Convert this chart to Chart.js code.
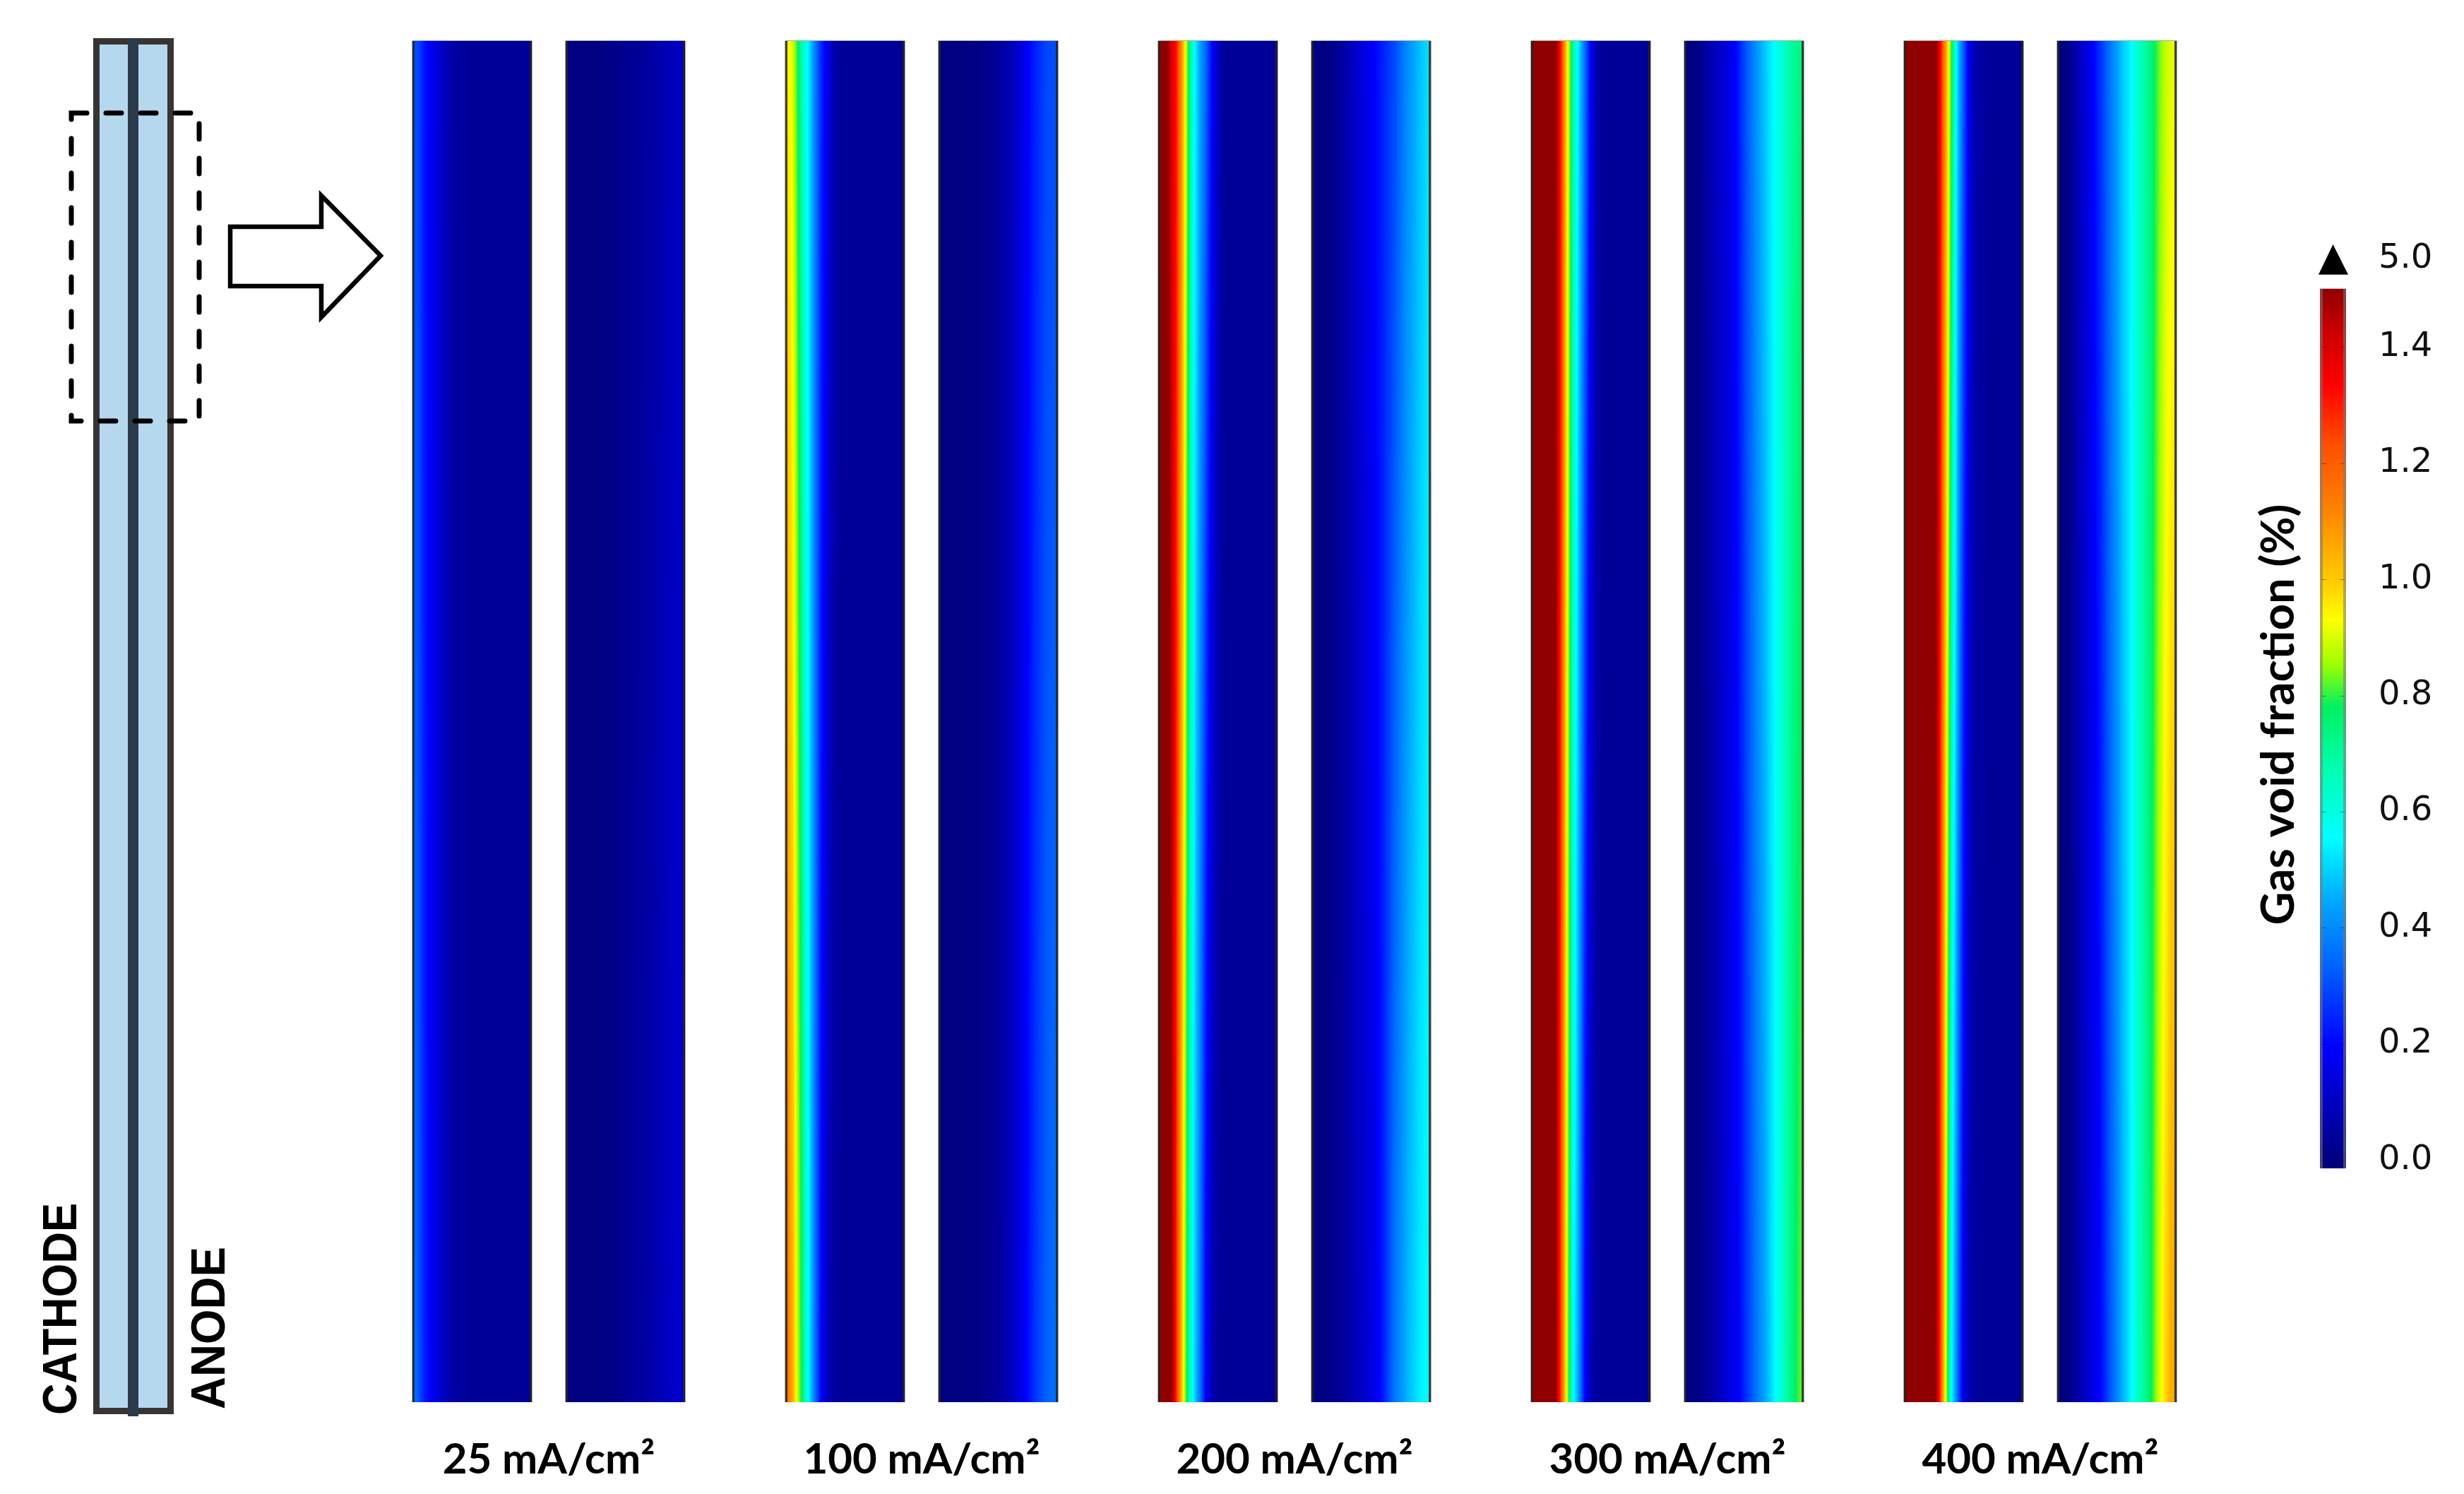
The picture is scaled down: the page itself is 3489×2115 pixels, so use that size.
<!DOCTYPE html>
<html>
<head>
<meta charset="utf-8">
<title>Gas void fraction</title>
<script src="https://cdn.jsdelivr.net/npm/chart.js@4.4.1/dist/chart.umd.min.js"></script>
<style>
    html, body { margin: 0; padding: 0; background: #fff; overflow: hidden; }
    #page { position: relative; width: 3489px; height: 2115px; }
    #sketch { position: absolute; left: 0; top: 0; }
    #panelsBox { position: absolute; left: 0; top: 0; width: 3489px; height: 2115px; }
    #cbarBox { position: absolute; left: 3100px; top: 0; width: 389px; height: 1717px; }
</style>
</head>
<body>
<div id="page">
    <!-- cell sketch with the zoom window -->
    <svg id="sketch" width="600" height="2115">
        <rect x="136.5" y="58.5" width="105" height="1939" fill="#B5D8EF" stroke="#383434" stroke-width="9"/>
        <rect x="181" y="54" width="15" height="1951" fill="#2B3B4C"/>
        <rect x="101" y="160" width="181" height="436" fill="none" stroke="#000" stroke-width="7"
              stroke-dasharray="22 27" stroke-linecap="round"/>
        <polygon points="326,321 455,321 455,277 539,362 455,449 455,405 326,405"
                 fill="#fff" stroke="#000" stroke-width="6.5"/>
        <text transform="translate(108,2003) rotate(-90)" font-family="'Liberation Sans', Arial, sans-serif"
              font-weight="bold" font-size="68" textLength="300" lengthAdjust="spacingAndGlyphs">CATHODE</text>
        <text transform="translate(318,1995) rotate(-90)" font-family="'Liberation Sans', Arial, sans-serif"
              font-weight="bold" font-size="68" textLength="230" lengthAdjust="spacingAndGlyphs">ANODE</text>
    </svg>
    <div id="panelsBox"><canvas id="panels"></canvas></div>
    <div id="cbarBox"><canvas id="cbar"></canvas></div>
</div>

<script>
// current densities (one pair of panels each)
var currents = ['25 mA/cm²', '100 mA/cm²', '200 mA/cm²', '300 mA/cm²', '400 mA/cm²'];
// normalized height of the zoom window (every panel spans all of it)
var windowHeight = [1, 1, 1, 1, 1];

// sample positions across each channel, 0 = left edge, 1 = right edge
var cellPos = [0, 0.03, 0.06, 0.1, 0.15, 0.2, 0.25, 0.3, 0.35, 0.4, 0.45, 0.5, 0.55, 0.6, 0.7, 0.8, 0.9, 0.95, 1.0];

// gas void fraction (%) on the cathode side, top and bottom of the window
var cathode25Top  = [0.31, 0.30, 0.28, 0.22, 0.18, 0.15, 0.11, 0.08, 0.055, 0.045, 0.04, 0.035, 0.035, 0.035, 0.035, 0.035, 0.035, 0.035, 0.035];
var cathode25Bot  = [0.36, 0.34, 0.30, 0.24, 0.19, 0.15, 0.11, 0.08, 0.055, 0.045, 0.04, 0.035, 0.035, 0.035, 0.035, 0.035, 0.035, 0.035, 0.035];
var cathode100Top = [0.95, 0.94, 0.90, 0.80, 0.64, 0.52, 0.38, 0.25, 0.17, 0.08, 0.045, 0.035, 0.035, 0.035, 0.035, 0.035, 0.035, 0.035, 0.035];
var cathode100Bot = [1.18, 1.13, 1.06, 0.90, 0.73, 0.53, 0.36, 0.19, 0.10, 0.05, 0.04, 0.035, 0.035, 0.035, 0.035, 0.035, 0.035, 0.035, 0.035];
var cathode200Top = [1.70, 1.70, 1.60, 1.42, 1.32, 1.08, 0.80, 0.57, 0.44, 0.34, 0.20, 0.10, 0.045, 0.035, 0.035, 0.035, 0.035, 0.035, 0.035];
var cathode200Bot = [1.75, 1.75, 1.70, 1.60, 1.30, 1.00, 0.72, 0.52, 0.37, 0.18, 0.08, 0.04, 0.035, 0.035, 0.035, 0.035, 0.035, 0.035, 0.035];
var cathode300Top = [1.75, 1.75, 1.75, 1.75, 1.75, 1.55, 1.30, 0.97, 0.70, 0.52, 0.36, 0.18, 0.07, 0.04, 0.035, 0.035, 0.035, 0.035, 0.035];
var cathode300Bot = [1.75, 1.75, 1.75, 1.75, 1.75, 1.55, 1.25, 0.90, 0.58, 0.42, 0.20, 0.08, 0.045, 0.035, 0.035, 0.035, 0.035, 0.035, 0.035];
var cathode400Top = [1.75, 1.75, 1.75, 1.75, 1.75, 1.75, 1.60, 1.37, 1.08, 0.78, 0.50, 0.32, 0.15, 0.07, 0.04, 0.035, 0.035, 0.035, 0.035];
var cathode400Bot = [1.75, 1.75, 1.75, 1.75, 1.75, 1.75, 1.60, 1.30, 0.90, 0.55, 0.35, 0.15, 0.07, 0.045, 0.035, 0.035, 0.035, 0.035, 0.035];

// gas void fraction (%) on the anode side, top and bottom of the window
var anode25Top  = [0, 0, 0, 0, 0, 0, 0, 0.005, 0.01, 0.015, 0.02, 0.025, 0.03, 0.035, 0.05, 0.07, 0.09, 0.10, 0.11];
var anode25Bot  = [0, 0, 0, 0, 0, 0, 0, 0.005, 0.01, 0.015, 0.02, 0.03, 0.035, 0.045, 0.06, 0.085, 0.11, 0.12, 0.13];
var anode100Top = [0, 0, 0, 0, 0, 0, 0.003, 0.006, 0.012, 0.02, 0.03, 0.04, 0.06, 0.08, 0.15, 0.23, 0.29, 0.30, 0.31];
var anode100Bot = [0, 0, 0, 0, 0, 0, 0.003, 0.006, 0.012, 0.02, 0.03, 0.04, 0.06, 0.09, 0.16, 0.26, 0.33, 0.35, 0.36];
var anode200Top = [0, 0, 0, 0.003, 0.01, 0.025, 0.045, 0.075, 0.10, 0.13, 0.155, 0.18, 0.21, 0.24, 0.30, 0.40, 0.47, 0.50, 0.53];
var anode200Bot = [0, 0, 0, 0.003, 0.01, 0.02, 0.035, 0.055, 0.075, 0.10, 0.12, 0.14, 0.18, 0.23, 0.37, 0.46, 0.53, 0.55, 0.56];
var anode300Top = [0, 0, 0, 0.005, 0.03, 0.06, 0.09, 0.11, 0.14, 0.17, 0.22, 0.29, 0.35, 0.41, 0.51, 0.60, 0.70, 0.73, 0.75];
var anode300Bot = [0, 0, 0, 0.005, 0.02, 0.04, 0.07, 0.10, 0.13, 0.16, 0.18, 0.24, 0.30, 0.36, 0.47, 0.60, 0.74, 0.80, 0.84];
var anode400Top = [0, 0, 0.003, 0.02, 0.06, 0.11, 0.15, 0.19, 0.25, 0.31, 0.375, 0.43, 0.49, 0.53, 0.65, 0.76, 0.88, 0.90, 0.92];
var anode400Bot = [0, 0, 0.003, 0.01, 0.04, 0.08, 0.12, 0.15, 0.18, 0.25, 0.32, 0.39, 0.46, 0.52, 0.67, 0.80, 0.97, 1.05, 1.08];

// colour scale
var cbarTicks = [0.0, 0.2, 0.4, 0.6, 0.8, 1.0, 1.2, 1.4];
var cbarMax = 1.5;
var cbarOverflow = 5.0;
var cbarTitle = 'Gas void fraction (%)';

// rainbow colour table
var cmapStops = [
    [0.00, '#000080'], [0.13, '#0000FF'], [0.22, '#0060FF'], [0.29, '#00A0FF'],
    [0.37, '#00FFFF'], [0.45, '#00FFB0'], [0.52, '#00F060'], [0.57, '#A0FF00'],
    [0.62, '#FFFF00'], [0.66, '#FFD000'], [0.75, '#FF8000'], [0.82, '#FF5000'],
    [0.89, '#FF0000'], [0.95, '#CC0000'], [1.00, '#900000']
];

function hexRgb(h) {
    return [parseInt(h.substr(1, 2), 16), parseInt(h.substr(3, 2), 16), parseInt(h.substr(5, 2), 16)];
}

// lookup table so the panels don't have to search the stops per pixel
var LUT_N = 1024;
var lut = [];
(function () {
    var stops = cmapStops.map(function (s) { return [s[0], hexRgb(s[1])]; });
    for (var i = 0; i < LUT_N; i++) {
        var f = i / (LUT_N - 1);
        var k = 1;
        while (k < stops.length - 1 && f > stops[k][0]) k++;
        var a = (f - stops[k - 1][0]) / (stops[k][0] - stops[k - 1][0]);
        a = Math.max(0, Math.min(1, a));
        var c0 = stops[k - 1][1], c1 = stops[k][1];
        lut.push([
            Math.round(c0[0] + a * (c1[0] - c0[0])),
            Math.round(c0[1] + a * (c1[1] - c0[1])),
            Math.round(c0[2] + a * (c1[2] - c0[2]))
        ]);
    }
})();

function colorOf(v) {
    var f = Math.max(0, Math.min(1, v / cbarMax));
    return lut[Math.round(f * (LUT_N - 1))];
}

function profileAt(prof, d) {
    for (var k = 1; k < cellPos.length; k++) {
        if (d <= cellPos[k]) {
            var a = (d - cellPos[k - 1]) / (cellPos[k] - cellPos[k - 1]);
            return prof[k - 1] + a * (prof[k] - prof[k - 1]);
        }
    }
    return prof[prof.length - 1];
}

// paints the void fraction field inside every bar Chart.js laid out
var fieldPlugin = {
    id: 'voidField',
    afterDatasetsDraw: function (chart) {
        var ctx = chart.ctx;
        chart.data.datasets.forEach(function (ds, di) {
            var meta = chart.getDatasetMeta(di);
            meta.data.forEach(function (bar, i) {
                var p = bar.getProps(['x', 'y', 'base', 'width'], true);
                var left = Math.round(p.x - p.width / 2);
                var right = Math.round(p.x + p.width / 2);
                var top = Math.round(Math.min(p.y, p.base));
                var bottom = Math.round(Math.max(p.y, p.base));
                var w = right - left, h = bottom - top;
                var topProf = ds.profiles[i][0], botProf = ds.profiles[i][1];
                var colTop = [], colBot = [];
                for (var x = 0; x < w; x++) {
                    var d = (x + 0.5) / w;
                    colTop.push(profileAt(topProf, d));
                    colBot.push(profileAt(botProf, d));
                }
                var img = ctx.createImageData(w, h);
                var px = img.data;
                for (var y = 0; y < h; y++) {
                    var t = (y + 0.5) / h;
                    for (var x2 = 0; x2 < w; x2++) {
                        var c = colorOf(colTop[x2] * (1 - t) + colBot[x2] * t);
                        var o = (y * w + x2) * 4;
                        px[o] = c[0]; px[o + 1] = c[1]; px[o + 2] = c[2]; px[o + 3] = 255;
                    }
                }
                ctx.putImageData(img, left, top);
                // electrode / membrane walls
                ctx.save();
                ctx.fillStyle = 'rgba(35,35,35,0.85)';
                ctx.fillRect(left, top, 3, h);
                ctx.fillRect(right - 3, top, 3, h);
                ctx.fillStyle = 'rgba(150,150,150,0.8)';
                ctx.fillRect(left - 1, top, 1, h);
                ctx.fillRect(right, top, 1, h);
                ctx.fillRect(left, top - 1, w, 1);
                ctx.restore();
            });
        });
    }
};

new Chart(document.getElementById('panels'), {
    type: 'bar',
    data: {
        labels: currents,
        datasets: [{
            label: 'Cathode',
            data: windowHeight,
            backgroundColor: '#000090',
            categoryPercentage: 0.822,
            barPercentage: 0.779,
            profiles: [
                [cathode25Top, cathode25Bot], [cathode100Top, cathode100Bot], [cathode200Top, cathode200Bot],
                [cathode300Top, cathode300Bot], [cathode400Top, cathode400Bot]
            ]
        }, {
            label: 'Anode',
            data: windowHeight,
            backgroundColor: '#000080',
            categoryPercentage: 0.822,
            barPercentage: 0.779,
            profiles: [
                [anode25Top, anode25Bot], [anode100Top, anode100Bot], [anode200Top, anode200Bot],
                [anode300Top, anode300Bot], [anode400Top, anode400Bot]
            ]
        }]
    },
    options: {
        responsive: true,
        maintainAspectRatio: false,
        animation: false,
        layout: { padding: { left: 513, right: 336, top: 58, bottom: 0 } },
        plugins: { legend: { display: false }, tooltip: { enabled: false } },
        scales: {
            x: {
                grid: { display: false, drawTicks: false },
                border: { display: false },
                ticks: {
                    color: '#000',
                    padding: 52,
                    maxRotation: 0,
                    autoSkip: false,
                    font: { family: 'Lato', weight: 'bold', size: 60, lineHeight: 1 }
                },
                afterFit: function (scale) { scale.height = 130; }
            },
            y: { display: false, min: 0, max: 1 }
        }
    },
    plugins: [fieldPlugin]
});

// colour bar: gradient, inner tick marks, overflow triangle and title
var cbarPlugin = {
    id: 'cbarFill',
    afterDatasetsDraw: function (chart) {
        var ctx = chart.ctx;
        var ys = chart.scales.y;
        var bar = chart.getDatasetMeta(0).data[0];
        var p = bar.getProps(['x', 'y', 'base', 'width'], true);
        var left = Math.round(p.x - p.width / 2), right = Math.round(p.x + p.width / 2);
        var top = Math.round(Math.min(p.y, p.base)), bottom = Math.round(Math.max(p.y, p.base));
        ctx.save();
        for (var py = top; py < bottom + 12; py++) {
            var c = colorOf(ys.getValueForPixel(py + 0.5));
            ctx.fillStyle = 'rgb(' + c[0] + ',' + c[1] + ',' + c[2] + ')';
            ctx.fillRect(left, py, right - left, 1);
        }
        ctx.fillStyle = 'rgba(120,120,120,0.55)';
        ctx.fillRect(left, top, 4, bottom + 12 - top);
        ctx.fillRect(right - 4, top, 4, bottom + 12 - top);
        ctx.fillStyle = 'rgba(0,0,0,0.35)';
        cbarTicks.forEach(function (v) {
            var y = Math.round(ys.getPixelForValue(v));
            ctx.fillRect(left + 2, y, 7, 1);
            ctx.fillRect(right - 9, y, 7, 1);
        });
        var yb = ys.getPixelForValue(1.525), yt = ys.getPixelForValue(1.577);
        ctx.fillStyle = '#000';
        ctx.beginPath();
        ctx.moveTo(left - 2, yb);
        ctx.lineTo(right + 3, yb);
        ctx.lineTo((left + right) / 2, yt);
        ctx.closePath();
        ctx.fill();
        // title to the left of the bar, reading bottom to top
        ctx.translate(left - 58, ys.getPixelForValue(0.767));
        ctx.rotate(-Math.PI / 2);
        ctx.font = 'bold 65px Lato';
        ctx.textAlign = 'center';
        ctx.textBaseline = 'middle';
        ctx.fillText(cbarTitle, 0, 0);
        ctx.restore();
    }
};

new Chart(document.getElementById('cbar'), {
    type: 'bar',
    data: {
        labels: ['scale'],
        datasets: [{
            data: [[0, cbarMax]],
            backgroundColor: '#000080',
            barPercentage: 1,
            categoryPercentage: 1
        }]
    },
    options: {
        responsive: true,
        maintainAspectRatio: false,
        animation: false,
        layout: { padding: { left: 185, right: 0, top: 327, bottom: 20 } },
        plugins: { legend: { display: false }, tooltip: { enabled: false } },
        scales: {
            x: { display: false },
            y: {
                type: 'linear',
                position: 'right',
                min: 0,
                max: 1.6,
                grid: { display: false, drawTicks: false },
                border: { display: false },
                afterBuildTicks: function (scale) {
                    scale.ticks = cbarTicks.map(function (v) { return { value: v }; })
                        .concat([{ value: 1.552 }]);
                },
                ticks: {
                    color: '#111',
                    padding: 46,
                    font: { family: 'DejaVu Sans', size: 48 },
                    callback: function (value) {
                        return value > cbarMax ? cbarOverflow.toFixed(1) : Number(value).toFixed(1);
                    }
                },
                afterFit: function (scale) { scale.width = 167; }
            }
        }
    },
    plugins: [cbarPlugin]
});
</script>
</body>
</html>
